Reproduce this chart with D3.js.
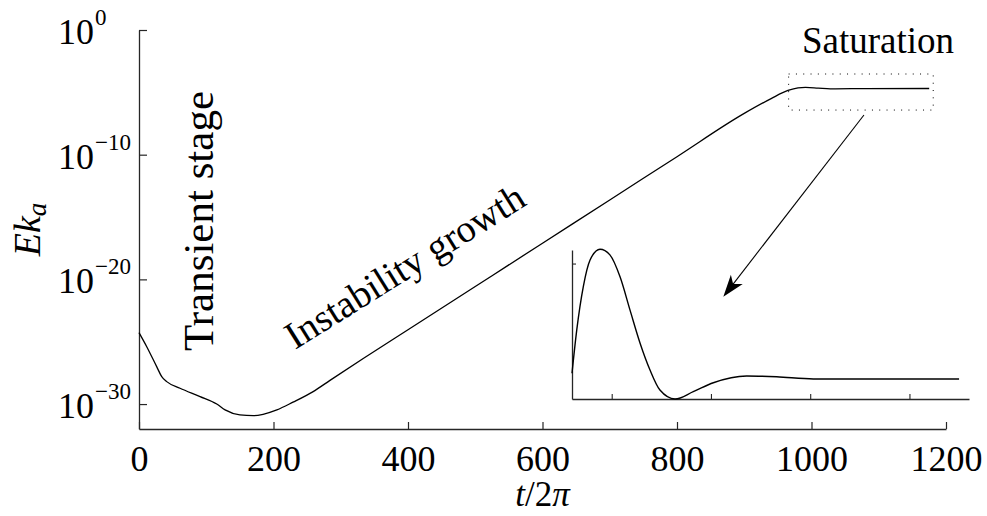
<!DOCTYPE html>
<html>
<head>
<meta charset="utf-8">
<script src="https://cdn.jsdelivr.net/npm/d3@7"></script>
<style>
  html, body { margin: 0; padding: 0; background: #fff; }
  svg { display: block; }
  svg text { font-family: "Liberation Serif", "Times New Roman", Tinos, "Nimbus Roman", "DejaVu Serif", serif; }
</style>
</head>
<body>
<script>
// ---------- data ----------
const timeValues = [0, 11.5, 26.3, 33.8, 41.2, 61, 90.8, 115.6, 128, 150, 170, 184.5, 205, 229, 259, 284, 334, 400, 500, 600, 700, 800, 900, 940, 965, 980, 991, 1010, 1028, 1080, 1175];
const energyValues = [5.37e-25, 3.98e-26, 1.0e-27, 1.58e-28, 6.31e-29, 1.86e-29, 3.98e-30, 1.0e-30, 3.39e-31, 1.35e-31, 1.17e-31, 1.51e-31, 3.39e-31, 1.41e-30, 1.0e-29, 7.94e-29, 4.68e-27, 9.12e-25, 2.69e-21, 7.94e-18, 2.34e-14, 6.92e-11, 2.04e-7, 3.16e-6, 1.41e-5, 2.29e-5, 2.51e-5, 2.19e-5, 1.91e-5, 2.0e-5, 2.04e-5];

const insetTime = [980, 982.4, 985.7, 989.1, 994.1, 999.1, 1004.2, 1009.2, 1014.3, 1019.3, 1024.3, 1031.9, 1041.1, 1051.2, 1068, 1083.1, 1101.6, 1125.2, 1175];
const insetEnergy = [1.995e-5, 2.155e-5, 2.315e-5, 2.413e-5, 2.453e-5, 2.432e-5, 2.351e-5, 2.229e-5, 2.106e-5, 2.007e-5, 1.933e-5, 1.900e-5, 1.927e-5, 1.960e-5, 1.985e-5, 1.982e-5, 1.974e-5, 1.974e-5, 1.974e-5];

const xTicks = [0, 200, 400, 600, 800, 1000, 1200];
const yTickExponents = [0, -10, -20, -30];
const insetXTicks = [1000, 1050, 1100, 1150];
const insetYTicks = [2.4e-5];

const stageLabels = ["Transient stage", "Instability growth", "Saturation"];
const xLabel = { italic1: "t", plain: "/2", italic2: "π" };

// ---------- setup ----------
const W = 987, H = 516;
const AXIS = "#262626";

const svg = d3.select("body").append("svg").attr("width", W).attr("height", H);

const x = d3.scaleLinear().domain([0, 1200]).range([139, 946]);
const y = d3.scaleLog().domain([1e-32, 1]).range([429, 30]);

// ---------- main axes ----------
const gx = svg.append("g").attr("transform", "translate(0,429)")
  .call(d3.axisBottom(x).tickValues(xTicks).tickSizeInner(-7).tickSizeOuter(0).tickFormat(d3.format("d")));
gx.attr("font-size", 36);
gx.select(".domain").attr("stroke", AXIS).attr("stroke-width", 1.3);
gx.selectAll(".tick line").attr("stroke", AXIS).attr("stroke-width", 1.2);
gx.selectAll(".tick text").attr("y", 41.7).attr("dy", null).attr("fill", "#000");

const yTicks = yTickExponents.map(e => Math.pow(10, e));
const gy = svg.append("g").attr("transform", "translate(139,0)")
  .call(d3.axisLeft(y).tickValues(yTicks).tickSizeInner(-8).tickSizeOuter(0).tickFormat(() => ""));
gy.select(".domain").attr("stroke", AXIS).attr("stroke-width", 1.3);
gy.selectAll(".tick line").attr("stroke", AXIS).attr("stroke-width", 1.2);
gy.selectAll(".tick text").each(function(d, i) {
  const t = d3.select(this)
    .attr("x", -81).attr("y", 13.3).attr("dy", null)
    .attr("text-anchor", "start").attr("fill", "#000");
  t.text(null);
  t.append("tspan").attr("font-size", 36).text("10");
  const e = yTickExponents[i];
  t.append("tspan").attr("font-size", 23).attr("dy", -19).attr("dx", 1)
    .text(e < 0 ? "\u2212" + Math.abs(e) : String(e));
});

// ---------- main curve ----------
const mainData = timeValues.map((t, i) => ({ t, e: energyValues[i] }));
const line = d3.line().x(d => x(d.t)).y(d => y(d.e)).curve(d3.curveMonotoneX);
svg.append("path").datum(mainData).attr("d", line)
  .attr("fill", "none").attr("stroke", "#000").attr("stroke-width", 1.3);

// ---------- axis labels ----------
const xl = svg.append("text").attr("x", (x(0) + x(1200)) / 2).attr("y", 506)
  .attr("text-anchor", "middle").attr("font-size", 35).attr("fill", "#000");
xl.append("tspan").attr("font-style", "italic").text(xLabel.italic1);
xl.append("tspan").text(xLabel.plain);
xl.append("tspan").attr("font-style", "italic").text(xLabel.italic2);

const yl = svg.append("text").attr("transform", "translate(40," + ((y(1) + y(1e-32)) / 2) + ") rotate(-90)")
  .attr("text-anchor", "middle").attr("font-size", 38).attr("font-style", "italic").attr("fill", "#000");
yl.append("tspan").text("Ek");
yl.append("tspan").attr("font-size", 27).attr("dy", 6).text("a");

// ---------- stage annotations ----------
svg.append("text").attr("transform", "translate(212.5,221) rotate(-90)")
  .attr("text-anchor", "middle").attr("font-size", 43).attr("fill", "#000").text(stageLabels[0]);
svg.append("text").attr("transform", "translate(295,350) rotate(-32)")
  .attr("text-anchor", "start").attr("font-size", 38.5).attr("fill", "#000").text(stageLabels[1]);
svg.append("text").attr("x", 802).attr("y", 53.3)
  .attr("text-anchor", "start").attr("font-size", 37).attr("fill", "#000").text(stageLabels[2]);

// ---------- dotted zoom box ----------
const boxT = [966, 1181], boxE = [Math.pow(10, -6.42), Math.pow(10, -3.53)];
svg.append("rect")
  .attr("x", x(boxT[0])).attr("y", y(boxE[1]))
  .attr("width", x(boxT[1]) - x(boxT[0])).attr("height", y(boxE[0]) - y(boxE[1]))
  .attr("fill", "none").attr("stroke", "#000").attr("stroke-width", 1)
  .attr("stroke-dasharray", "1,6.3");

// ---------- arrow ----------
const aStart = [x(1078), y(Math.pow(10, -6.82))];
const aTip = [x(868.9), y(Math.pow(10, -21.39))];
const dx = aTip[0] - aStart[0], dy = aTip[1] - aStart[1];
const len = Math.hypot(dx, dy);
const u = [dx / len, dy / len], n = [-u[1], u[0]];
const L = 22, wH = 7.5, notch = 16;
const back = [aTip[0] - L * u[0], aTip[1] - L * u[1]];
const nb = [aTip[0] - notch * u[0], aTip[1] - notch * u[1]];
svg.append("line").attr("x1", aStart[0]).attr("y1", aStart[1]).attr("x2", nb[0]).attr("y2", nb[1])
  .attr("stroke", "#000").attr("stroke-width", 1.1);
svg.append("path")
  .attr("d", "M" + aTip + "L" + [back[0] + wH * n[0], back[1] + wH * n[1]] + "L" + nb + "L" + [back[0] - wH * n[0], back[1] - wH * n[1]] + "Z")
  .attr("fill", "#000");

// ---------- inset ----------
const xi = d3.scaleLinear().domain([980, 1180]).range([572, 969]);
const yi = d3.scaleLinear().domain([1.9e-5, 2.45e-5]).range([399, 250]);

const gix = svg.append("g").attr("transform", "translate(0,399)")
  .call(d3.axisBottom(xi).tickValues(insetXTicks).tickSizeInner(-5).tickSizeOuter(0).tickFormat(() => ""));
gix.select(".domain").attr("stroke", AXIS).attr("stroke-width", 1.3);
gix.selectAll(".tick line").attr("stroke", AXIS).attr("stroke-width", 1.1);

const giy = svg.append("g").attr("transform", "translate(572,0)")
  .call(d3.axisLeft(yi).tickValues(insetYTicks).tickSizeInner(-4).tickSizeOuter(0).tickFormat(() => ""));
giy.select(".domain").attr("stroke", AXIS).attr("stroke-width", 1.3);
giy.selectAll(".tick line").attr("stroke", AXIS).attr("stroke-width", 1.1);

const insetData = insetTime.map((t, i) => ({ t, e: insetEnergy[i] }));
const insetLine = d3.line().x(d => xi(d.t)).y(d => yi(d.e)).curve(d3.curveMonotoneX);
svg.append("path").datum(insetData).attr("d", insetLine)
  .attr("fill", "none").attr("stroke", "#000").attr("stroke-width", 1.4);
</script>
</body>
</html>
